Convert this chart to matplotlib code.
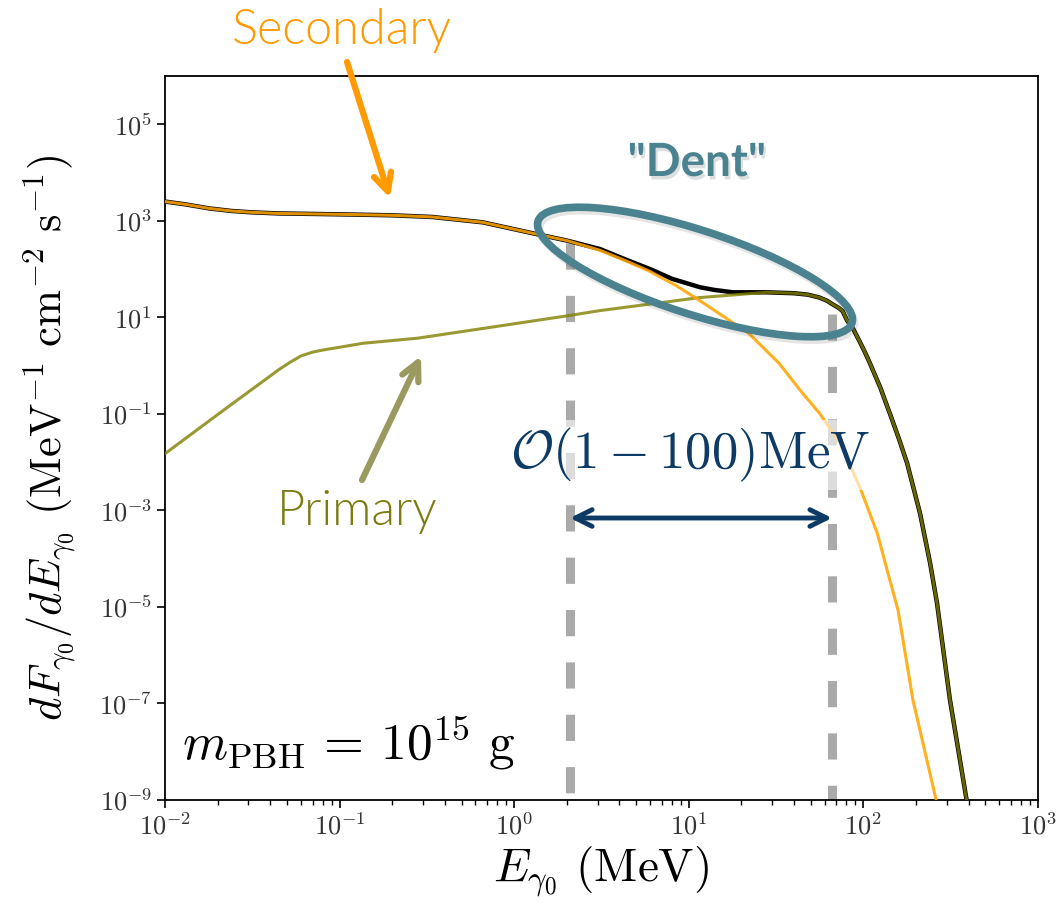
import numpy as np
import matplotlib
matplotlib.use('Agg')
import matplotlib.pyplot as plt
from matplotlib.patches import Ellipse
from matplotlib.transforms import IdentityTransform
import matplotlib.patheffects as pe
from matplotlib.ticker import FixedLocator, FuncFormatter, LogLocator

plt.rcParams['mathtext.fontset'] = 'cm'
plt.rcParams['font.family'] = ['Lato', 'DejaVu Sans']

# photon energy grid (MeV) and fluxes (MeV^-1 cm^-2 s^-1)
E_sec = [0.01, 0.013, 0.018, 0.024, 0.031, 0.045, 0.06, 0.115, 0.2, 0.34, 0.66, 1.28, 2.0, 3.1,
         4.5, 6.0, 8.5, 11.6, 22, 33, 43.4, 56.4, 73.4, 95.5, 120, 142, 158, 192, 261, 290]
F_sec = [2.5e3, 2.2e3, 1.8e3, 1.6e3, 1.5e3, 1.42e3, 1.4e3, 1.35e3, 1.3e3, 1.2e3, 9.3e2, 5.5e2,
         3.9e2, 2.45e2, 141, 89, 45, 22, 4.7, 1.1, 0.31, 0.10, 0.025, 3.0e-3, 3.4e-4, 3.5e-5,
         8.5e-6, 1.2e-7, 1e-9, 1e-10]

E_tot = [0.01, 0.013, 0.018, 0.024, 0.031, 0.045, 0.06, 0.115, 0.2, 0.34, 0.66, 1.28, 2.0, 3.1,
         4.5, 6.0, 8.0, 11.6, 14, 17.9, 28, 40, 48, 56, 62, 66, 72, 76, 80.5, 88, 95, 102, 109,
         125, 142, 160, 178, 211, 241, 264, 313, 390, 420]
F_tot = [2.5e3, 2.2e3, 1.8e3, 1.6e3, 1.5e3, 1.42e3, 1.4e3, 1.35e3, 1.3e3, 1.2e3, 9.3e2, 5.5e2,
         3.9e2, 2.6e2, 150, 1.0e2, 63, 42, 37, 33, 33, 31.6, 29.5, 25.7, 22, 19, 15.8, 13.5, 8.7,
         5.5, 3.2, 1.9, 1.12, 0.35, 0.10, 0.03, 9.5e-3, 8.7e-4, 8.1e-5, 1.2e-5, 1.2e-7, 1e-9,
         1e-10]

E_pri = [0.01, 0.0236, 0.045, 0.052, 0.06, 0.065, 0.07, 0.08, 0.1, 0.136, 0.28, 0.73, 2.1, 3.1,
         11.6, 28, 40, 48, 56, 62, 66, 72, 76, 80.5, 88, 95, 102, 109, 125, 142, 160, 178, 211,
         241, 264, 313, 390, 420]
F_pri = [0.015, 0.15, 0.83, 1.17, 1.58, 1.74, 1.9, 2.1, 2.4, 2.9, 3.7, 6.2, 11, 13.8, 25.7, 33,
         31.6, 29.5, 25.7, 22, 19, 15.8, 13.5, 8.7, 5.5, 3.2, 1.9, 1.12, 0.35, 0.10, 0.03, 9.5e-3,
         8.7e-4, 8.1e-5, 1.2e-5, 1.2e-7, 1e-9, 1e-10]

# "dent" window edges and where the markers meet the curve
dent_E = [2.1, 66]
dent_top = [340, 12]

teal = '#4b8290'
navy = '#0d3b66'

fig = plt.figure(figsize=(10.56, 9.06), dpi=100)
ax = fig.add_axes([165 / 1056, 106 / 906, 873 / 1056, 724 / 906])

ax.plot(E_tot, F_tot, color='black', lw=3.2, zorder=2)
ax.plot(E_pri, F_pri, color='olive', alpha=0.8, lw=2.2, zorder=3)
ax.plot(E_sec, F_sec, color='orange', alpha=0.88, lw=2.2, zorder=4)

for e, top in zip(dent_E, dent_top):
    ax.plot([e, e], [top, 1e-9], color='#aaaaaa', lw=6.5, ls=(0, (2.9, 2.9)), zorder=1)

ax.set_xscale('log')
ax.set_yscale('log')
ax.set_xlim(1e-2, 1e3)
ax.set_ylim(1e-9, 1e6)

ax.yaxis.set_major_locator(FixedLocator([10.0**k for k in range(-9, 6, 2)]))
ax.yaxis.set_minor_locator(FixedLocator([]))
ax.xaxis.set_major_locator(FixedLocator([10.0**k for k in range(-2, 4)]))
ax.xaxis.set_minor_locator(LogLocator(base=10, subs=np.arange(2, 10), numticks=20))
fmt = FuncFormatter(lambda v, p: r'$10^{%d}$' % round(np.log10(v)))
ax.xaxis.set_major_formatter(fmt)
ax.yaxis.set_major_formatter(fmt)
ax.tick_params(which='major', direction='out', length=6, width=1.2, labelsize=19,
               labelcolor='#333333')
ax.tick_params(which='minor', direction='out', length=3.5, width=1.0)
for s in ax.spines.values():
    s.set_linewidth(1.3)

ax.set_xlabel(r'$E_{\gamma_0}\ (\mathrm{MeV})$', fontsize=34)
ax.set_ylabel(r'$dF_{\gamma_0}/dE_{\gamma_0}\ (\mathrm{MeV}^{-1}\ \mathrm{cm}^{-2}\ \mathrm{s}^{-1})$', fontsize=32)
ax.xaxis.set_label_coords(0.5, -0.062)
ax.yaxis.set_label_coords(-0.10, 0.5)

ax.text(0.02, 0.055, r'$m_{\mathrm{PBH}}\, =\, 10^{15}\ \mathrm{g}$', transform=ax.transAxes,
        fontsize=37, va='baseline', ha='left')


def af(px, py):
    # pixel position in the picture -> axes fraction
    return ((px - 165) / 873, (800 - py) / 724)


ax.text(*af(690, 455), r'$\mathcal{O}(1-100)\mathrm{MeV}$', transform=ax.transAxes,
        fontsize=38, color=navy, ha='center', va='center', zorder=8,
        bbox=dict(boxstyle='square,pad=0.12', fc='white', ec='none', alpha=0.6))
ax.annotate('', xy=af(570, 518), xytext=af(832, 518), xycoords='axes fraction',
            arrowprops=dict(arrowstyle='<->', color=navy, lw=3.5, mutation_scale=30,
                            shrinkA=0, shrinkB=0), zorder=9)

ax.text(*af(342, 30), 'Secondary', transform=ax.transAxes, fontsize=35, color='#ff9a00',
        fontweight=300, ha='center', va='center')
ax.annotate('', xy=af(390, 198), xytext=af(347, 62), xycoords='axes fraction',
            arrowprops=dict(arrowstyle='->', color='#ff9a00', lw=4.5, mutation_scale=32,
                            shrinkA=0, shrinkB=0), zorder=9)

ax.text(*af(357, 512), 'Primary', transform=ax.transAxes, fontsize=35, color='#7b7b12',
        fontweight=300, ha='center', va='center')
ax.annotate('', xy=af(421, 356), xytext=af(362, 480), xycoords='axes fraction',
            arrowprops=dict(arrowstyle='->', color='#9a9a60', lw=4.5, mutation_scale=32,
                            shrinkA=0, shrinkB=0), zorder=9)

ax.text(*af(697, 163), '"Dent"', transform=ax.transAxes, fontsize=33, color=teal,
        fontweight='bold', ha='center', va='center',
        path_effects=[pe.SimplePatchShadow(offset=(1.5, -2.5), alpha=0.15), pe.Normal()])

ell = Ellipse((695, 906 - 272), 330, 84, angle=-18, fill=False, ec=teal, lw=5.5,
              transform=IdentityTransform(), zorder=10,
              path_effects=[pe.SimpleLineShadow(offset=(1.5, -2.5), alpha=0.1), pe.Normal()])
fig.add_artist(ell)

fig.savefig('out.png', dpi=100)
